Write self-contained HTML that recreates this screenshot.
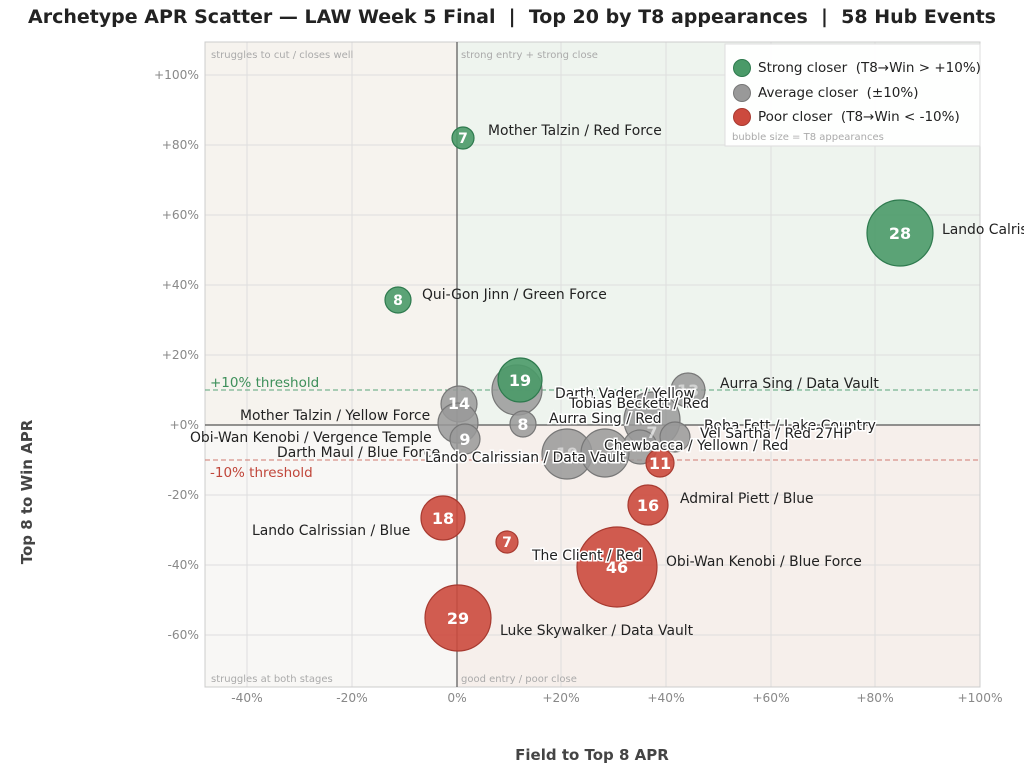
<!DOCTYPE html>
<html><head><meta charset="utf-8"><style>
body{margin:0;background:#fff;}
svg{display:block;font-family:"DejaVu Sans","Liberation Sans",sans-serif;}
.tk{font-size:12.2px;fill:#888;}
.lb{font-size:13.9px;fill:#222;}
.num{font-size:16px;font-weight:bold;fill:#fff;text-anchor:middle;}
.q{font-size:10px;fill:#aaa;}
</style></head><body>
<svg width="1024" height="775" viewBox="0 0 1024 775">
<rect width="1024" height="775" fill="#fff"/>
<text x="28" y="23" font-size="18.5" font-weight="bold" fill="#222" textLength="968" lengthAdjust="spacingAndGlyphs">Archetype APR Scatter — LAW Week 5 Final &#160;| &#160;Top 20 by T8 appearances &#160;| &#160;58 Hub Events</text>
<rect x="205" y="42" width="252" height="383" fill="#f6f3ee"/>
<rect x="457" y="42" width="523" height="383" fill="#eef4ee"/>
<rect x="205" y="425" width="252" height="262" fill="#f8f7f5"/>
<rect x="457" y="425" width="523" height="262" fill="#f6efeb"/>
<g stroke="#dedede" stroke-width="1">
<line x1="247" y1="42" x2="247" y2="687"/><line x1="352" y1="42" x2="352" y2="687"/>
<line x1="561" y1="42" x2="561" y2="687"/><line x1="666" y1="42" x2="666" y2="687"/>
<line x1="771" y1="42" x2="771" y2="687"/><line x1="875" y1="42" x2="875" y2="687"/>
<line x1="205" y1="75" x2="980" y2="75"/><line x1="205" y1="145" x2="980" y2="145"/>
<line x1="205" y1="215" x2="980" y2="215"/><line x1="205" y1="285" x2="980" y2="285"/>
<line x1="205" y1="355" x2="980" y2="355"/><line x1="205" y1="495" x2="980" y2="495"/>
<line x1="205" y1="565" x2="980" y2="565"/><line x1="205" y1="635" x2="980" y2="635"/>
</g>
<rect x="205" y="42" width="775" height="645" fill="none" stroke="#ccc"/>
<line x1="457" y1="42" x2="457" y2="687" stroke="#555" stroke-width="1.2"/>
<line x1="205" y1="425" x2="980" y2="425" stroke="#555" stroke-width="1.2"/>
<line x1="205" y1="390" x2="980" y2="390" stroke="#5aa57a" stroke-dasharray="5,3"/>
<line x1="205" y1="460" x2="980" y2="460" stroke="#d07a70" stroke-dasharray="5,3"/>
<text x="210" y="387" font-size="13.5" fill="#3d8f5a">+10% threshold</text>
<text x="210" y="477" font-size="13.5" fill="#c0463a">-10% threshold</text>
<text class="q" x="211" y="58">struggles to cut / closes well</text>
<text class="q" x="461" y="58">strong entry + strong close</text>
<text class="q" x="211" y="682">struggles at both stages</text>
<text class="q" x="461" y="682">good entry / poor close</text>
<g class="tk" text-anchor="middle">
<text x="247" y="702">-40%</text><text x="352" y="702">-20%</text><text x="457" y="702">0%</text>
<text x="561" y="702">+20%</text><text x="666" y="702">+40%</text><text x="771" y="702">+60%</text>
<text x="875" y="702">+80%</text><text x="980" y="702">+100%</text>
</g>
<g class="tk" text-anchor="end">
<text x="199" y="79">+100%</text><text x="199" y="149">+80%</text><text x="199" y="219">+60%</text>
<text x="199" y="289">+40%</text><text x="199" y="359">+20%</text><text x="199" y="429">+0%</text>
<text x="199" y="499">-20%</text><text x="199" y="569">-40%</text><text x="199" y="639">-60%</text>
</g>
<text x="592" y="760" text-anchor="middle" font-size="15" font-weight="bold" fill="#444">Field to Top 8 APR</text>
<text transform="translate(32,492) rotate(-90)" text-anchor="middle" font-size="15" font-weight="bold" fill="#444">Top 8 to Win APR</text>
<g stroke-width="1.2">
<g fill="#999" fill-opacity="0.85" stroke="#777">
<circle cx="517" cy="390" r="25"/>
<circle cx="688" cy="390" r="17"/>
<circle cx="459" cy="404" r="18"/>
<circle cx="458" cy="423" r="20"/>
<circle cx="465" cy="439" r="15"/>
<circle cx="523" cy="424" r="13"/>
<circle cx="652" cy="420" r="28"/>
<circle cx="640" cy="447" r="17"/>
<circle cx="675" cy="437" r="15"/>
<circle cx="567" cy="454" r="25"/>
<circle cx="605" cy="453" r="24"/>
</g>
<g fill="#4a9a68" fill-opacity="0.9" stroke="#2e7a4e">
<circle cx="463" cy="138" r="11"/>
<circle cx="900" cy="233" r="33"/>
<circle cx="398" cy="300" r="13"/>
<circle cx="520" cy="380" r="22"/>
</g>
<g fill="#cc4a3e" fill-opacity="0.9" stroke="#a83a30">
<circle cx="660" cy="463" r="14"/>
<circle cx="648" cy="505" r="20"/>
<circle cx="443" cy="518" r="22"/>
<circle cx="507" cy="542" r="11"/>
<circle cx="617" cy="567" r="40"/>
<circle cx="458" cy="618" r="33"/>
</g>
</g>
<g class="num">
<text x="463" y="143" font-size="14">7</text><text x="900" y="239">28</text><text x="398" y="305" font-size="14">8</text>
<text x="520" y="386">19</text><text x="459" y="409">14</text><text x="465" y="445">9</text><text x="523" y="430">8</text>
<text x="688" y="396" opacity="0.5">13</text><text x="652" y="438" opacity="0.6">7</text><text x="567" y="459" opacity="0.5">19</text>
<text x="660" y="469">11</text><text x="648" y="511">16</text><text x="443" y="524">18</text><text x="507" y="547" font-size="14">7</text>
<text x="617" y="573">46</text><text x="458" y="624">29</text>
</g>
<g class="lb">
<text x="488" y="135">Mother Talzin / Red Force</text>
<text x="942" y="234">Lando Calrissian / Blue Force</text>
<text x="422" y="299">Qui-Gon Jinn / Green Force</text>
<text x="720" y="388">Aurra Sing / Data Vault</text>
<text x="555" y="398" style="paint-order:stroke" stroke="#fff" stroke-width="3">Darth Vader / Yellow</text>
<text x="569" y="408" style="paint-order:stroke" stroke="#fff" stroke-width="3">Tobias Beckett / Red</text>
<text x="240" y="420">Mother Talzin / Yellow Force</text>
<text x="549" y="423" style="paint-order:stroke" stroke="#fff" stroke-width="3">Aurra Sing / Red</text>
<text x="704" y="430" style="paint-order:stroke" stroke="#fff" stroke-width="3">Boba Fett / Lake Country</text>
<text x="190" y="442">Obi-Wan Kenobi / Vergence Temple</text>
<text x="700" y="438" style="paint-order:stroke" stroke="#fff" stroke-width="3">Vel Sartha / Red 27HP</text>
<text x="604" y="450" style="paint-order:stroke" stroke="#fff" stroke-width="3">Chewbacca / Yellown / Red</text>
<text x="277" y="457">Darth Maul / Blue Force</text>
<text x="425" y="462" style="paint-order:stroke" stroke="#fff" stroke-width="3">Lando Calrissian / Data Vault</text>
<text x="680" y="503">Admiral Piett / Blue</text>
<text x="252" y="535">Lando Calrissian / Blue</text>
<text x="532" y="560" style="paint-order:stroke" stroke="#fff" stroke-width="3">The Client / Red</text>
<text x="666" y="566">Obi-Wan Kenobi / Blue Force</text>
<text x="500" y="635">Luke Skywalker / Data Vault</text>
</g>
<rect x="725" y="44" width="255" height="102" fill="#fff" fill-opacity="0.92" stroke="#ddd"/>
<circle cx="742" cy="68" r="8.5" fill="#4a9a68" stroke="#2e7a4e"/>
<circle cx="742" cy="93" r="8.5" fill="#999" stroke="#777"/>
<circle cx="742" cy="117" r="8.5" fill="#cc4a3e" stroke="#a83a30"/>
<g font-size="13.5" fill="#222">
<text x="758" y="72">Strong closer &#160;(T8→Win &gt; +10%)</text>
<text x="758" y="97">Average closer &#160;(±10%)</text>
<text x="758" y="121">Poor closer &#160;(T8→Win &lt; -10%)</text>
</g>
<text x="732" y="140" font-size="10" fill="#aaa">bubble size = T8 appearances</text>
</svg>
</body></html>
